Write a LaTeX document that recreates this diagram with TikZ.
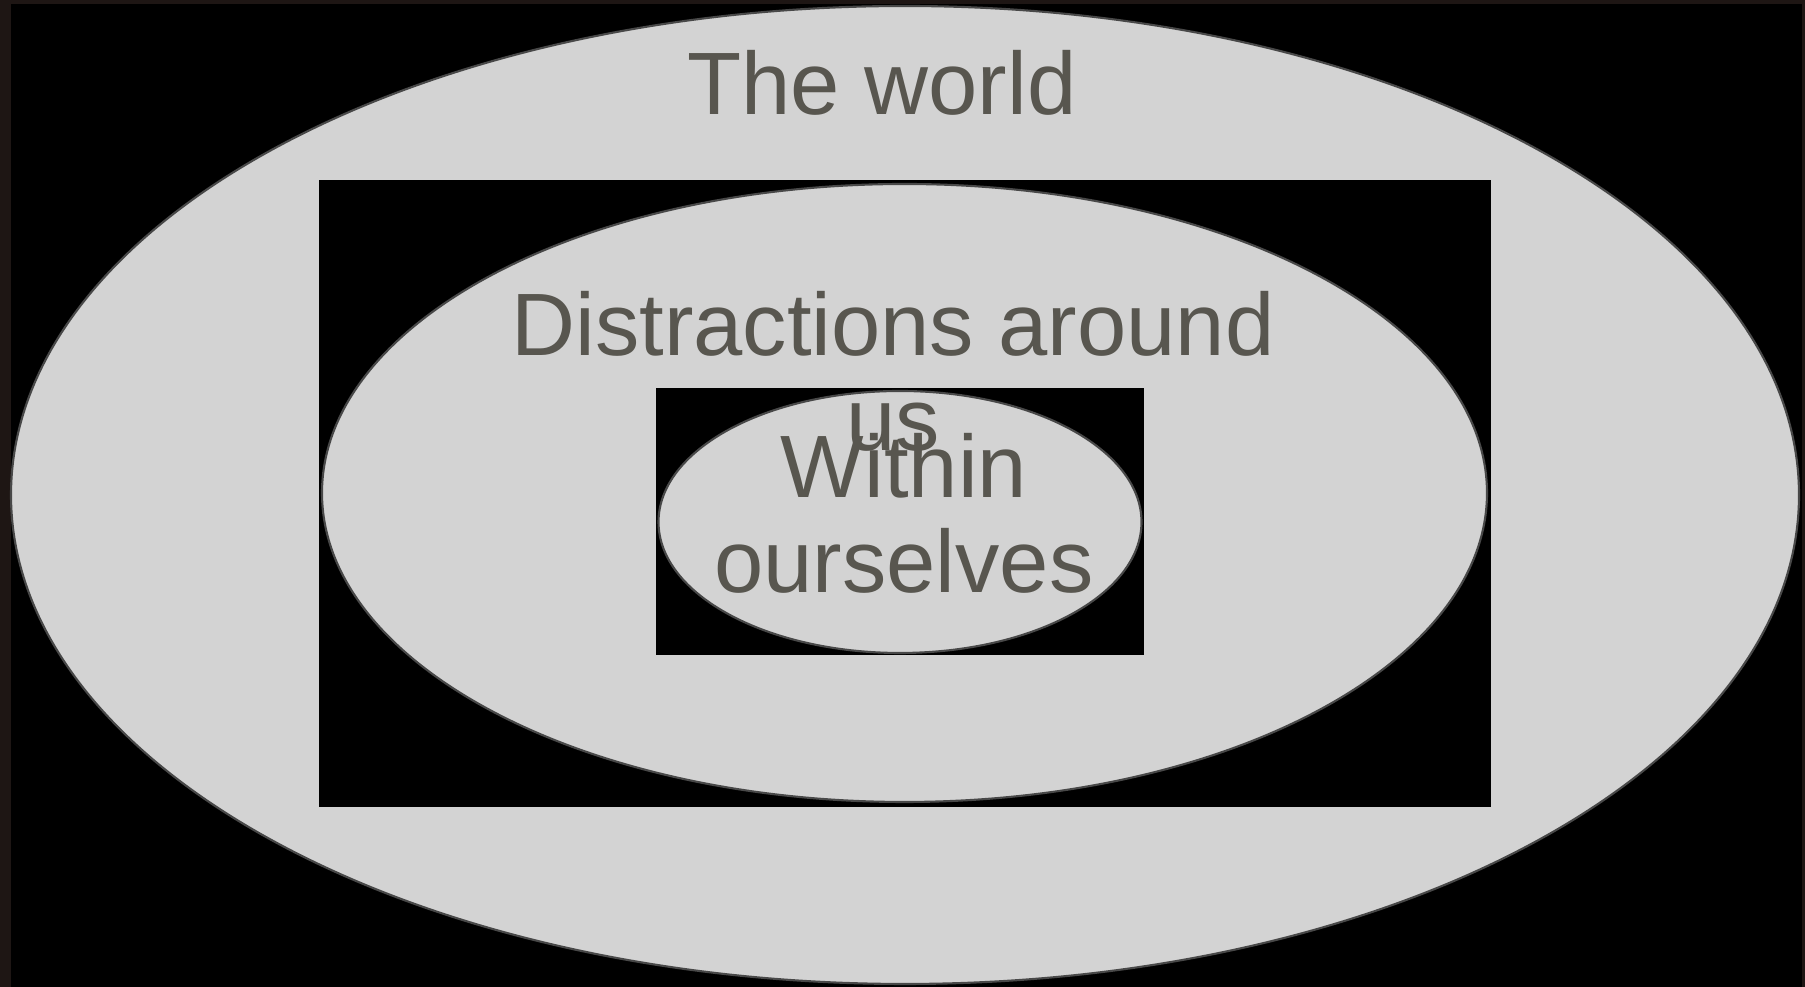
\documentclass[tikz,border=0pt]{standalone}
\usepackage{fontspec}
\setmainfont{Liberation Sans}
\usetikzlibrary{shapes.geometric}
\definecolor{frameBrown}{RGB}{30,22,20}
\definecolor{paleGrey}{RGB}{211,211,211}
\definecolor{rimGrey}{RGB}{72,72,72}
\definecolor{inkGrey}{RGB}{88,86,79}

\begin{document}
\begin{tikzpicture}[x=0.1mm,y=0.1mm,
  zone/.style={ellipse,fill=paleGrey,draw=rimGrey,line width=0.6pt,inner sep=0pt},
  panel/.style={rectangle,fill=black,inner sep=0pt},
  caption/.style={font=\fontsize{25.2}{27}\selectfont,text=inkGrey,align=center,inner sep=0pt}]
  \useasboundingbox (0,0) rectangle (1805,987);
  % frame and black ground
  \fill[frameBrown] (0,0) rectangle (1805,987);
  \fill[black] (11,0) rectangle (1802,983);
  % nested zones
  \node[zone,minimum width=178.8mm,minimum height=97.8mm] (world) at (905,492) {};
  \node[panel,minimum width=117.2mm,minimum height=62.7mm] (outerbox) at (905,493.5) {};
  \node[zone,minimum width=116.5mm,minimum height=61.8mm] (around) at (904.5,494) {};
  \node[panel,minimum width=48.8mm,minimum height=26.7mm] (innerbox) at (900,465.5) {};
  \node[zone,minimum width=48.3mm,minimum height=26.2mm] (within) at (900,465) {};
  % labels
  \node[caption,anchor=base] (worldtext) at (882,872) {The world};
  \node[caption] (aroundtext) at (893,615.5) {Distractions around\\us};
  \node[caption] (withintext) at (904,474) {Within\\ourselves};
\end{tikzpicture}
\end{document}
